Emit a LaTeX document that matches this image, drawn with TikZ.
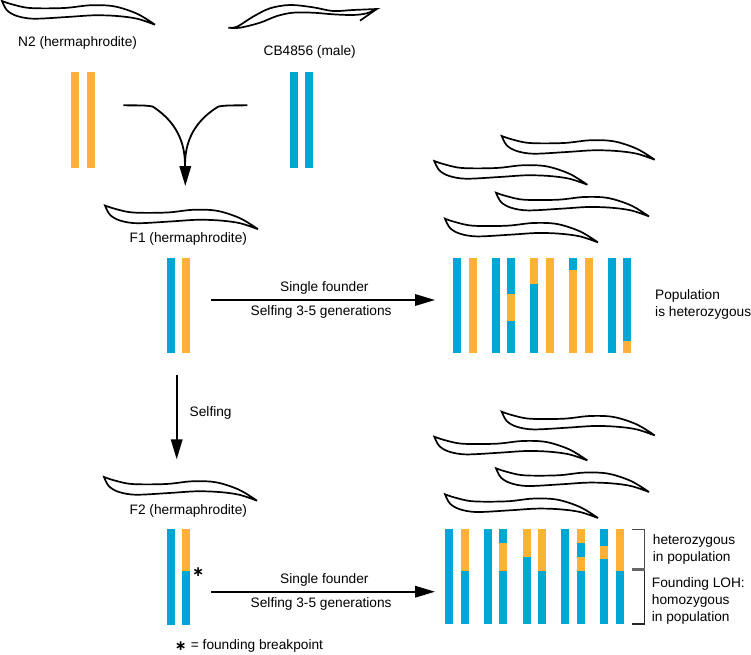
\documentclass[tikz,border=0pt]{standalone}
\usepackage{fontspec}
\setmainfont{Liberation Sans}
\newfontfamily\starfont{DejaVu Sans}
\usetikzlibrary{arrows.meta}
\definecolor{chromblue}{RGB}{0,166,212}
\definecolor{chromorange}{RGB}{253,177,55}
\tikzset{
  label text/.style={inner sep=0pt,font=\fontsize{13.7}{16}\selectfont},
  star text/.style={inner sep=0pt,font=\starfont\bfseries\fontsize{14}{14}\selectfont},
  worm line/.style={draw=black,line width=1.7pt,fill=white,line join=miter,miter limit=5},
  flow arrow/.style={draw=black,line width=1.8pt,-{Triangle[length=20pt,width=11.5pt]},shorten >=0pt},
  cross line/.style={draw=black,line width=1.8pt},
  bracket line/.style={draw=black!85,line width=1.1pt},
}
% Hermaphrodite worm outline, drawn from its head at the pic origin
\tikzset{
  worm/.pic={
    \path[worm line] plot[smooth,tension=.55] coordinates {(0,0) (10,3.3) (28,7) (62,7) (88,4.3) (112,5.3) (135,12.7) (153,23.7)}
      -- plot[smooth,tension=.55] coordinates {(153,23.7) (135,17.7) (115,15) (92,14.3) (65,16) (32,17.7) (15,15) (5,9.3) (0,0)} -- cycle;
  }
}
% \chrom{x}{top}{colour/end pairs}: one chromosome bar of 8 units width
\newcommand{\chrom}[3]{%
  \def\segtop{#2}%
  \foreach \segcol/\segend in {#3}{%
    \fill[\segcol] (#1,\segtop) rectangle (#1+8,\segend);%
    \global\let\segtop\segend%
  }%
}
\begin{document}
\begin{tikzpicture}[x=1pt,y=-1pt]
\useasboundingbox (0,0) rectangle (751,654);

% worms
\pic at (2,1) {worm};
\pic at (105,205.5) {worm};
\pic at (104,477) {worm};
\pic at (501.7,136) {worm};
\pic at (434.3,161) {worm};
\pic at (496,192.7) {worm};
\pic at (445,218.7) {worm};
\pic at (501.7,411.7) {worm};
\pic at (434.3,436.7) {worm};
\pic at (496,468.3) {worm};
\pic at (445,494.3) {worm};

% male worm with its hooked tail
\path[worm line] plot[smooth,tension=.55] coordinates {(228.3,27.7) (237,26.7) (253,16.7) (270,8.3) (290,5) (313,7.3) (333,11) (353,10) (376.7,9)}
  -- plot[smooth,tension=.55] coordinates {(376.7,9) (366.7,13.3) (353,15) (333,14.3) (313,12.7) (293,12.7) (277,16) (260,22.7) (240,27.7) (228.3,27.7)} -- cycle;
\draw[line width=1.7pt] (376.7,9) -- (360,20.7);

% parental and F1/F2 chromosomes
\chrom{71}{72.3}{chromorange/167.7}
\chrom{86.7}{72.3}{chromorange/167.7}
\chrom{290}{72.3}{chromblue/167.7}
\chrom{305.3}{72.3}{chromblue/167.7}
\chrom{167}{258}{chromblue/353}
\chrom{182}{258}{chromorange/353}
\chrom{166.7}{529.3}{chromblue/624.7}
\chrom{182}{529.3}{chromorange/571,chromblue/624.7}

% heterozygous population
\chrom{453}{258}{chromblue/352.7}
\chrom{468.7}{258}{chromorange/352.7}
\chrom{492}{258}{chromblue/352.7}
\chrom{507.3}{258}{chromblue/294,chromorange/320.7,chromblue/352.7}
\chrom{530.3}{258}{chromorange/283.7,chromblue/352.7}
\chrom{546}{258}{chromorange/352.7}
\chrom{569}{258}{chromblue/269.7,chromorange/352.7}
\chrom{584.7}{258}{chromorange/352.7}
\chrom{608}{258}{chromblue/352.7}
\chrom{623.3}{258}{chromblue/341.3,chromorange/352.7}

% population with the founding breakpoint
\chrom{445.3}{529.3}{chromblue/624.3}
\chrom{460.7}{529.3}{chromorange/570.7,chromblue/624.3}
\chrom{484}{529.3}{chromblue/624.3}
\chrom{499.3}{529.3}{chromblue/543.3,chromorange/570.7,chromblue/624.3}
\chrom{522.7}{529.3}{chromorange/557,chromblue/624.3}
\chrom{538.3}{529.3}{chromorange/570.7,chromblue/624.3}
\chrom{561.3}{529.3}{chromblue/624.3}
\chrom{577}{529.3}{chromorange/543.3,chromblue/557,chromorange/570.7,chromblue/624.3}
\chrom{600}{529.3}{chromblue/545.7,chromorange/558.7,chromblue/624.3}
\chrom{615.7}{529.3}{chromorange/570.7,chromblue/624.3}

% connector end points
\coordinate (crossL) at (123.3,105.3);
\coordinate (crossR) at (247.3,105.3);
\coordinate (crossM) at (185,165);
\coordinate (crossTip) at (185.3,186);
\coordinate (founderA) at (211,300);
\coordinate (founderATip) at (435,300);
\coordinate (selfTop) at (176.7,375);
\coordinate (selfTip) at (176.7,459.3);
\coordinate (founderB) at (211,591.7);
\coordinate (founderBTip) at (435,591.7);

% cross of the two parents
\draw[cross line] (crossL) .. controls (135,105.5) and (147,105) .. (153,106.7) .. controls (170,118) and (185,135) .. (crossM);
\draw[cross line] (crossR) .. controls (235,105.5) and (225,105) .. (218,106.7) .. controls (200,118) and (185,135) .. (crossM);
\draw[flow arrow] (185.3,160) -- (crossTip);

\draw[flow arrow] (founderA) -- (founderATip);
\draw[flow arrow] (selfTop) -- (selfTip);
\draw[flow arrow] (founderB) -- (founderBTip);

% brackets
\coordinate (brTop) at (631.7,529.3);
\coordinate (brMid) at (644.3,570);
\coordinate (brBot) at (631.7,624);
\draw[bracket line,draw=black!70] (brTop) -| (brMid);
\draw[bracket line] (brBot) -| (brMid);
\draw[draw=black!60,line width=3pt] (631.7,569.7) -- (644.8,569.7);

% labels
\node[label text,anchor=west] (n2) at (18,42.5) {N2 (hermaphrodite)};
\node[label text,anchor=west] (cb) at (263.5,52) {CB4856 (male)};
\node[label text,anchor=west] (f1) at (129.5,239) {F1 (hermaphrodite)};
\node[label text,anchor=west] (f2) at (129.5,511) {F2 (hermaphrodite)};
\node[label text,anchor=west] (sfa) at (280,288) {Single founder};
\node[label text,anchor=west] (sga) at (250.5,311.5) {Selfing 3-5 generations};
\node[label text,anchor=west] (sfb) at (280,580) {Single founder};
\node[label text,anchor=west] (sgb) at (250.5,603.5) {Selfing 3-5 generations};
\node[label text,anchor=west] (self) at (189.5,413) {Selfing};
\node[label text,anchor=west] (popa) at (655,295.7) {Population};
\node[label text,anchor=west] (popb) at (655,312.7) {is heterozygous};
\node[label text,anchor=west] (hetA) at (652.7,540.7) {heterozygous};
\node[label text,anchor=west] (hetB) at (652.7,557.7) {in population};
\node[label text,anchor=west] (lohA) at (651.7,584.3) {Founding LOH:};
\node[label text,anchor=west] (lohB) at (651.7,601.3) {homozygous};
\node[label text,anchor=west] (lohC) at (651.7,618) {in population};
\node[label text,anchor=west] (fb) at (190.7,646) {= founding breakpoint};
\node[star text] (stA) at (198.3,572.3) {∗};
\node[star text] (stB) at (180.7,646.5) {∗};
\end{tikzpicture}
\end{document}
